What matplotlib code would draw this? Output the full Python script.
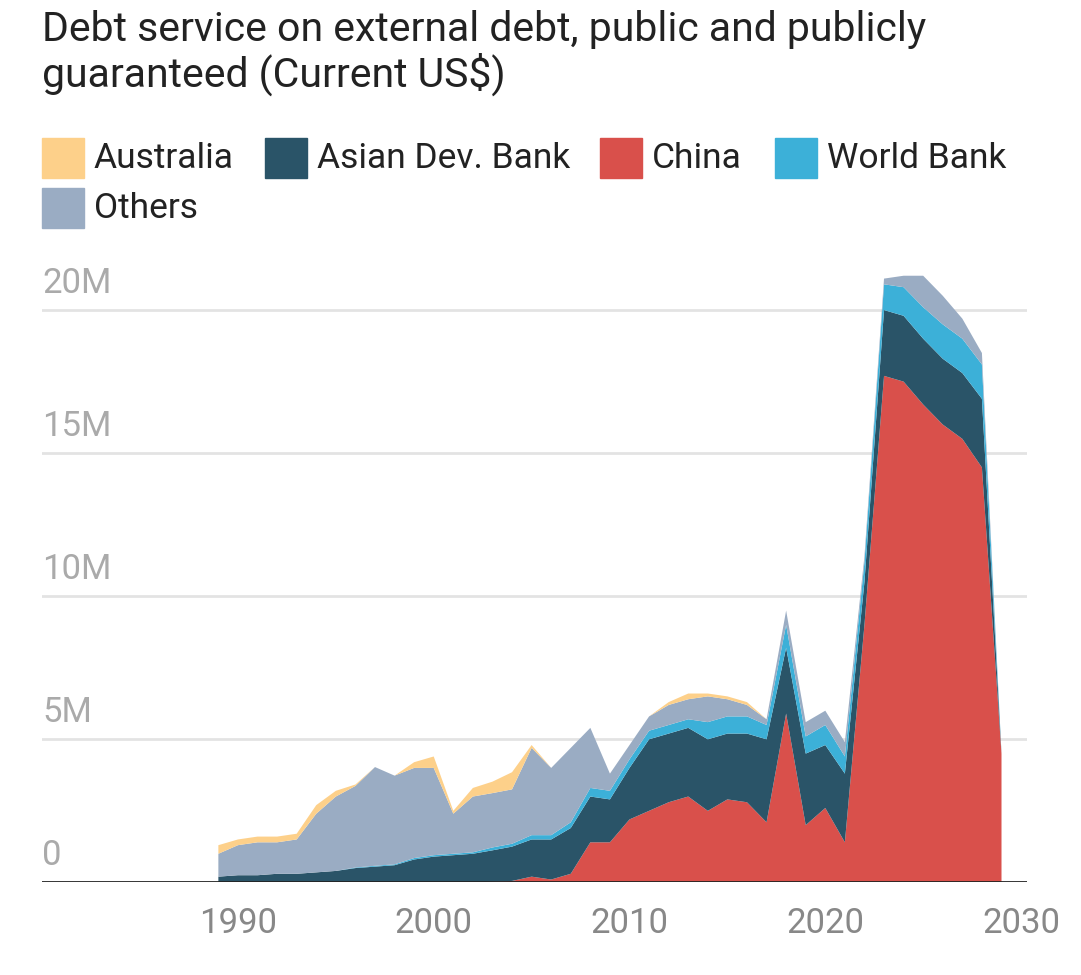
import matplotlib
matplotlib.use("Agg")
import matplotlib.pyplot as plt
from matplotlib.patches import Rectangle

years = list(range(1989, 2030))
china = [0,0,0,0,0,0,0,0,0,0,0,0,0,0,0.02,0.05,0.2,0.1,0.3,1.4,1.4,2.2,2.5,2.8,3.0,2.5,2.9,2.8,2.1,5.9,2.0,2.6,1.4,9.0,17.7,17.5,16.7,16.0,15.5,14.5,4.5]
adb = [0.2,0.25,0.25,0.3,0.3,0.35,0.4,0.5,0.55,0.6,0.8,0.9,0.95,1.0,1.1,1.2,1.3,1.4,1.6,1.6,1.5,1.8,2.5,2.4,2.4,2.5,2.3,2.4,2.9,2.3,2.5,2.2,2.4,1.5,2.3,2.3,2.3,2.3,2.3,2.4,0]
wb = [0,0,0,0,0,0,0,0.02,0.03,0.03,0.05,0.05,0.05,0.05,0.1,0.1,0.15,0.15,0.2,0.3,0.3,0.3,0.3,0.3,0.3,0.6,0.6,0.6,0.5,0.8,0.6,0.7,0.6,0.7,0.9,1.0,1.1,1.2,1.2,1.2,0]
others = [0.8,1.05,1.15,1.1,1.2,2.05,2.6,2.85,3.45,3.1,3.15,3.05,1.4,1.95,1.9,1.9,3.05,2.35,2.6,2.1,0.6,0.5,0.5,0.7,0.7,0.9,0.6,0.4,0.2,0.5,0.5,0.5,0.5,0.2,0.2,0.4,1.1,1.0,0.7,0.4,0]
australia = [0.3,0.2,0.2,0.2,0.2,0.3,0.2,0.05,0,0,0.2,0.4,0.1,0.3,0.4,0.6,0.1,0,0,0,0,0,0,0.1,0.2,0.1,0.1,0.1,0,0,0,0,0,0,0,0,0,0,0,0,0]

names = ["Australia", "Asian Dev. Bank", "China", "World Bank", "Others"]
colors = {"Australia": "#FDD08A", "Asian Dev. Bank": "#2A5468", "China": "#D9504B",
          "World Bank": "#3CB0D8", "Others": "#9AACC3"}
yticks = [0, 5, 10, 15, 20]
ytick_labels = ["0", "5M", "10M", "15M", "20M"]
xticks = [1990, 2000, 2010, 2020, 2030]

plt.rcParams["font.family"] = "Roboto"
fig = plt.figure(figsize=(10.81, 9.75), dpi=100)
ax = fig.add_axes([0.039, 0.095, 0.911, 0.631])
ax.stackplot(years, [china, adb, wb, others, australia],
             colors=[colors["China"], colors["Asian Dev. Bank"], colors["World Bank"],
                     colors["Others"], colors["Australia"]], linewidth=0)
ax.set_xlim(1980, 2030.3)
ax.set_ylim(0, 21.5)
for v, lab in zip(yticks, ytick_labels):
    if v > 0:
        ax.axhline(v, color="#e3e3e3", lw=2, zorder=0)
    ax.text(1980, v + 0.35, lab, fontsize=25, color="#aaaaaa", va="bottom", ha="left")
ax.axhline(0, color="#222222", lw=2)
ax.set_yticks([])
ax.set_xticks(xticks)
ax.set_xticklabels([str(x) for x in xticks], fontsize=25, color="#888888")
ax.tick_params(axis="x", length=0, pad=18)
for s in ax.spines.values():
    s.set_visible(False)

fig.text(0.039, 0.99, "Debt service on external debt, public and publicly\nguaranteed (Current US$)",
         fontsize=29.5, va="top", ha="left", color="#222222", linespacing=1.1)
leg = [("Australia", 42, 158), ("Asian Dev. Bank", 265, 158), ("China", 600, 158),
       ("World Bank", 775, 158), ("Others", 42, 208)]
for name, px, py in leg:
    fig.patches.append(Rectangle((px / 1081, 1 - (py + 20) / 975), 42 / 1081, 40 / 975,
                                 transform=fig.transFigure, color=colors[name]))
    fig.text((px + 52) / 1081, 1 - py / 975, name, fontsize=25.5, va="center", ha="left", color="#222222")

fig.savefig("out.png", dpi=100)
